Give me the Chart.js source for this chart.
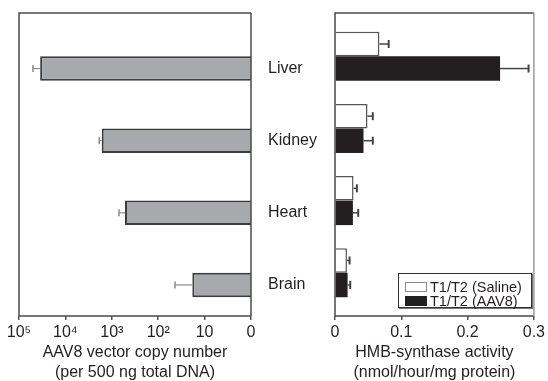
<!DOCTYPE html>
<html>
<head>
<meta charset="utf-8">
<script src="https://cdn.jsdelivr.net/npm/chart.js@4"></script>
<style>
  html, body { margin: 0; padding: 0; background: #fff; overflow: hidden; }
  #wrap { position: relative; width: 548px; height: 381px; }
  #copyChart { position: absolute; left: 0; top: 0; }
  #activityChart { position: absolute; left: 260px; top: 0; }
  #legend {
    position: absolute; left: 398px; top: 273px; width: 134px; height: 35px;
    border: 1px solid #333; box-shadow: 1px 1px 0 #777; background: #fff;
    padding-top: 6px; box-sizing: border-box;
    font-family: "Liberation Sans", Arial, sans-serif; font-size: 14.5px; color: #231f20;
  }
  #legend .row { display: flex; align-items: center; height: 14px; line-height: 14px; white-space: nowrap; }
  #legend .sw { width: 22px; height: 10px; margin: 0 3px 0 6px; box-sizing: border-box; flex: none; }
</style>
</head>
<body>
<div id="wrap">
  <canvas id="copyChart" width="265" height="381"></canvas>
  <canvas id="activityChart" width="288" height="381"></canvas>
  <div id="legend"></div>
</div>
<script>
const tissues = ['Liver', 'Kidney', 'Heart', 'Brain'];
const tissuePos = [0, 1, 2, 3];
const seriesNames = ['T1/T2 (Saline)', 'T1/T2 (AAV8)'];

// vector copies per 500 ng total DNA
const copyNumber = [35000, 1650, 520, 18.4];
const copyErr = [15000, 210, 180, 25];
const copyTicks = [1, 10, 100, 1000, 10000, 100000];
const copyTickLabels = ['0', '10', '10²', '10³', '10⁴', '10⁵'];

// HMB-synthase activity (nmol/hour/mg protein)
const salineActivity = [0.067, 0.049, 0.028, 0.018];
const salineErr = [0.014, 0.008, 0.005, 0.004];
const aavActivity = [0.249, 0.043, 0.027, 0.019];
const aavErr = [0.043, 0.014, 0.008, 0.004];
const activityTicks = [0, 0.1, 0.2, 0.3];

Chart.defaults.font.family = '"Liberation Sans", Arial, sans-serif';
Chart.defaults.font.size = 16;
Chart.defaults.color = '#231f20';
Chart.defaults.animation = false;

const frame = {
    id: 'frame',
    afterDatasetsDraw(chart, args, opts) {
        const { ctx, chartArea: a } = chart;
        ctx.save();
        ctx.lineWidth = 1.5;
        ctx.strokeStyle = opts.color;
        ctx.beginPath();
        ctx.moveTo(a.right, a.top);
        ctx.lineTo(a.left, a.top);
        ctx.lineTo(a.left, a.bottom);
        ctx.lineTo(a.right, a.bottom);
        ctx.stroke();
        ctx.strokeStyle = opts.rightColor || opts.color;
        ctx.beginPath();
        ctx.moveTo(a.right, a.top);
        ctx.lineTo(a.right, a.bottom);
        ctx.stroke();
        ctx.restore();
    }
};

const errorBars = {
    id: 'errorBars',
    afterDatasetsDraw(chart, args, opts) {
        const ctx = chart.ctx;
        const xs = chart.scales.x;
        chart.data.datasets.forEach((ds, i) => {
            if (!ds.errors) return;
            chart.getDatasetMeta(i).data.forEach((bar, j) => {
                const v = ds.data[j].x;
                const end = xs.getPixelForValue(v + ds.errors[j]);
                ctx.save();
                ctx.strokeStyle = opts.color;
                ctx.lineWidth = opts.width;
                ctx.beginPath();
                ctx.moveTo(bar.x, bar.y);
                ctx.lineTo(end, bar.y);
                ctx.stroke();
                ctx.lineWidth = opts.capWidth;
                ctx.beginPath();
                ctx.moveTo(end, bar.y - opts.cap);
                ctx.lineTo(end, bar.y + opts.cap);
                ctx.stroke();
                ctx.restore();
            });
        });
    }
};

const toPoints = vals => vals.map((v, i) => ({ x: v, y: tissuePos[i] }));

const rowAxis = {
    type: 'linear',
    min: -0.6,
    max: 3.6,
    offset: false,
    reverse: true,
    afterBuildTicks: s => { s.ticks = tissuePos.map(v => ({ value: v })); }
};

// left panel
new Chart(document.getElementById('copyChart'), {
    type: 'bar',
    data: {
        datasets: [{
            label: seriesNames[0],
            data: toPoints(tissuePos.map(() => null))
        }, {
            label: seriesNames[1],
            data: toPoints(copyNumber),
            errors: copyErr,
            backgroundColor: '#a7a9ac',
            borderColor: '#3d3d3d',
            borderWidth: 2
        }]
    },
    options: {
        indexAxis: 'y',
        responsive: false,
        devicePixelRatio: 1,
        categoryPercentage: 0.68,
        barPercentage: 1,
        layout: { padding: { left: 19, right: 14, top: 13, bottom: 0 } },
        plugins: {
            legend: { display: false },
            tooltip: { enabled: false },
            frame: { color: '#4a4a4a' },
            errorBars: { color: '#8a8a8a', width: 1.2, capWidth: 1.5, cap: 3.5 }
        },
        scales: {
            y: Object.assign({ display: false }, rowAxis),
            x: {
                type: 'logarithmic',
                min: 1,
                max: 100000,
                reverse: true,
                afterBuildTicks: s => { s.ticks = copyTicks.map(v => ({ value: v })); },
                afterFit: s => { s.height = 65; },
                border: { display: false },
                grid: { drawOnChartArea: false, tickLength: 4, color: '#555', lineWidth: 1.5 },
                ticks: {
                    padding: 3,
                    maxRotation: 0,
                    callback: value => copyTickLabels[copyTicks.indexOf(value)]
                },
                title: {
                    display: true,
                    text: ['AAV8 vector copy number', '(per 500 ng total DNA)'],
                    font: { size: 16, lineHeight: 1.25 },
                    padding: { top: 0, bottom: -2 }
                }
            }
        }
    },
    plugins: [errorBars, frame]
});

// right panel
new Chart(document.getElementById('activityChart'), {
    type: 'bar',
    data: {
        datasets: [{
            label: seriesNames[0],
            data: toPoints(salineActivity),
            errors: salineErr,
            backgroundColor: '#ffffff',
            borderColor: '#555555',
            borderWidth: 1.5
        }, {
            label: seriesNames[1],
            data: toPoints(aavActivity),
            errors: aavErr,
            backgroundColor: '#231f20',
            borderWidth: 0
        }]
    },
    options: {
        indexAxis: 'y',
        responsive: false,
        devicePixelRatio: 1,
        categoryPercentage: 0.68,
        barPercentage: 1,
        layout: { padding: { left: 8, right: 11, top: 13, bottom: 0 } },
        plugins: {
            legend: { display: false },
            tooltip: { enabled: false },
            frame: { color: '#4a4a4a', rightColor: '#9a9a9a' },
            errorBars: { color: '#444', width: 1.5, capWidth: 2, cap: 4 }
        },
        scales: {
            y: Object.assign({
                position: 'left',
                afterFit: s => { s.width = 67; },
                border: { display: false },
                grid: { display: false },
                ticks: {
                    crossAlign: 'far',
                    labelOffset: 12,
                    callback: value => tissues[value]
                }
            }, rowAxis),
            x: {
                type: 'linear',
                min: 0,
                max: 0.3,
                afterBuildTicks: s => { s.ticks = activityTicks.map(v => ({ value: v })); },
                afterFit: s => { s.height = 65; },
                border: { display: false },
                grid: { drawOnChartArea: false, tickLength: 4, color: '#555', lineWidth: 1.5 },
                ticks: {
                    padding: 3,
                    maxRotation: 0,
                    callback: value => value === 0 ? '0' : value.toFixed(1)
                },
                title: {
                    display: true,
                    text: ['HMB-synthase activity', '(nmol/hour/mg protein)'],
                    font: { size: 16, lineHeight: 1.25 },
                    padding: { top: 0, bottom: -2 }
                }
            }
        }
    },
    plugins: [errorBars, frame]
});

// legend inside the right panel
const swatches = [
    { fill: '#ffffff', border: '1.5px solid #8a8a8a' },
    { fill: '#231f20', border: '1px solid #231f20' }
];
const legendEl = document.getElementById('legend');
seriesNames.forEach((name, i) => {
    const row = document.createElement('div');
    row.className = 'row';
    const sw = document.createElement('span');
    sw.className = 'sw';
    sw.style.background = swatches[i].fill;
    sw.style.border = swatches[i].border;
    row.appendChild(sw);
    row.appendChild(document.createTextNode(name));
    legendEl.appendChild(row);
});
</script>
</body>
</html>
